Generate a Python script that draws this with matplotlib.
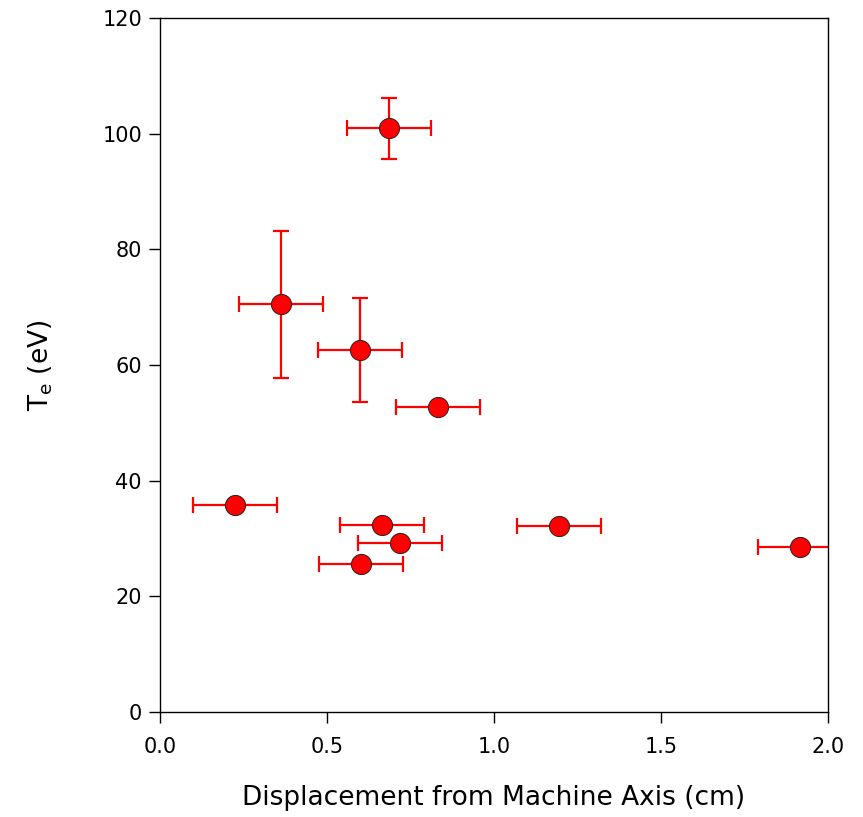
import numpy as np
import matplotlib
matplotlib.use("Agg")
import matplotlib.pyplot as plt

# displacement (cm), Te (eV) and their error bars
disp = [0.686, 0.362, 0.599, 0.832, 0.225, 0.665, 1.195, 0.719, 0.602, 1.916]
te = [100.9, 70.5, 62.6, 52.7, 35.8, 32.3, 32.2, 29.2, 25.6, 28.5]
disp_err = [0.125] * 10
te_err = [5.3, 12.7, 9.0, 0, 0, 0, 0, 0, 0, 0]

xticks = [0.0, 0.5, 1.0, 1.5, 2.0]
yticks = [0, 20, 40, 60, 80, 100, 120]

plt.rcParams['font.family'] = ['DejaVu Sans']

fig = plt.figure(figsize=(8.63, 8.17), dpi=100)
ax = fig.add_axes([0.1854, 0.1285, 0.774, 0.8495])

ax.errorbar(disp, te, xerr=disp_err, yerr=te_err, fmt='none',
            ecolor='red', elinewidth=1.6, capsize=5.5, capthick=1.6, zorder=2)
ax.plot(disp, te, 'o', ms=14.5, mfc='red', mec='#222222', mew=0.7, zorder=3)

ax.set_xlim(0, 2)
ax.set_ylim(0, 120)
ax.set_xticks(xticks)
ax.set_xticklabels([f'{t:.1f}' for t in xticks])
ax.set_yticks(yticks)

ax.tick_params(direction='out', length=8, width=1, labelsize=15)
ax.tick_params(axis='x', pad=10)
ax.tick_params(axis='y', pad=5)
for s in ax.spines.values():
    s.set_linewidth(1)

ax.set_xlabel('Displacement from Machine Axis (cm)', fontsize=19, labelpad=20)
ax.set_ylabel(r'T$_\mathregular{e}$ (eV)', fontsize=19, labelpad=34)

fig.savefig('out.png', dpi=100)
